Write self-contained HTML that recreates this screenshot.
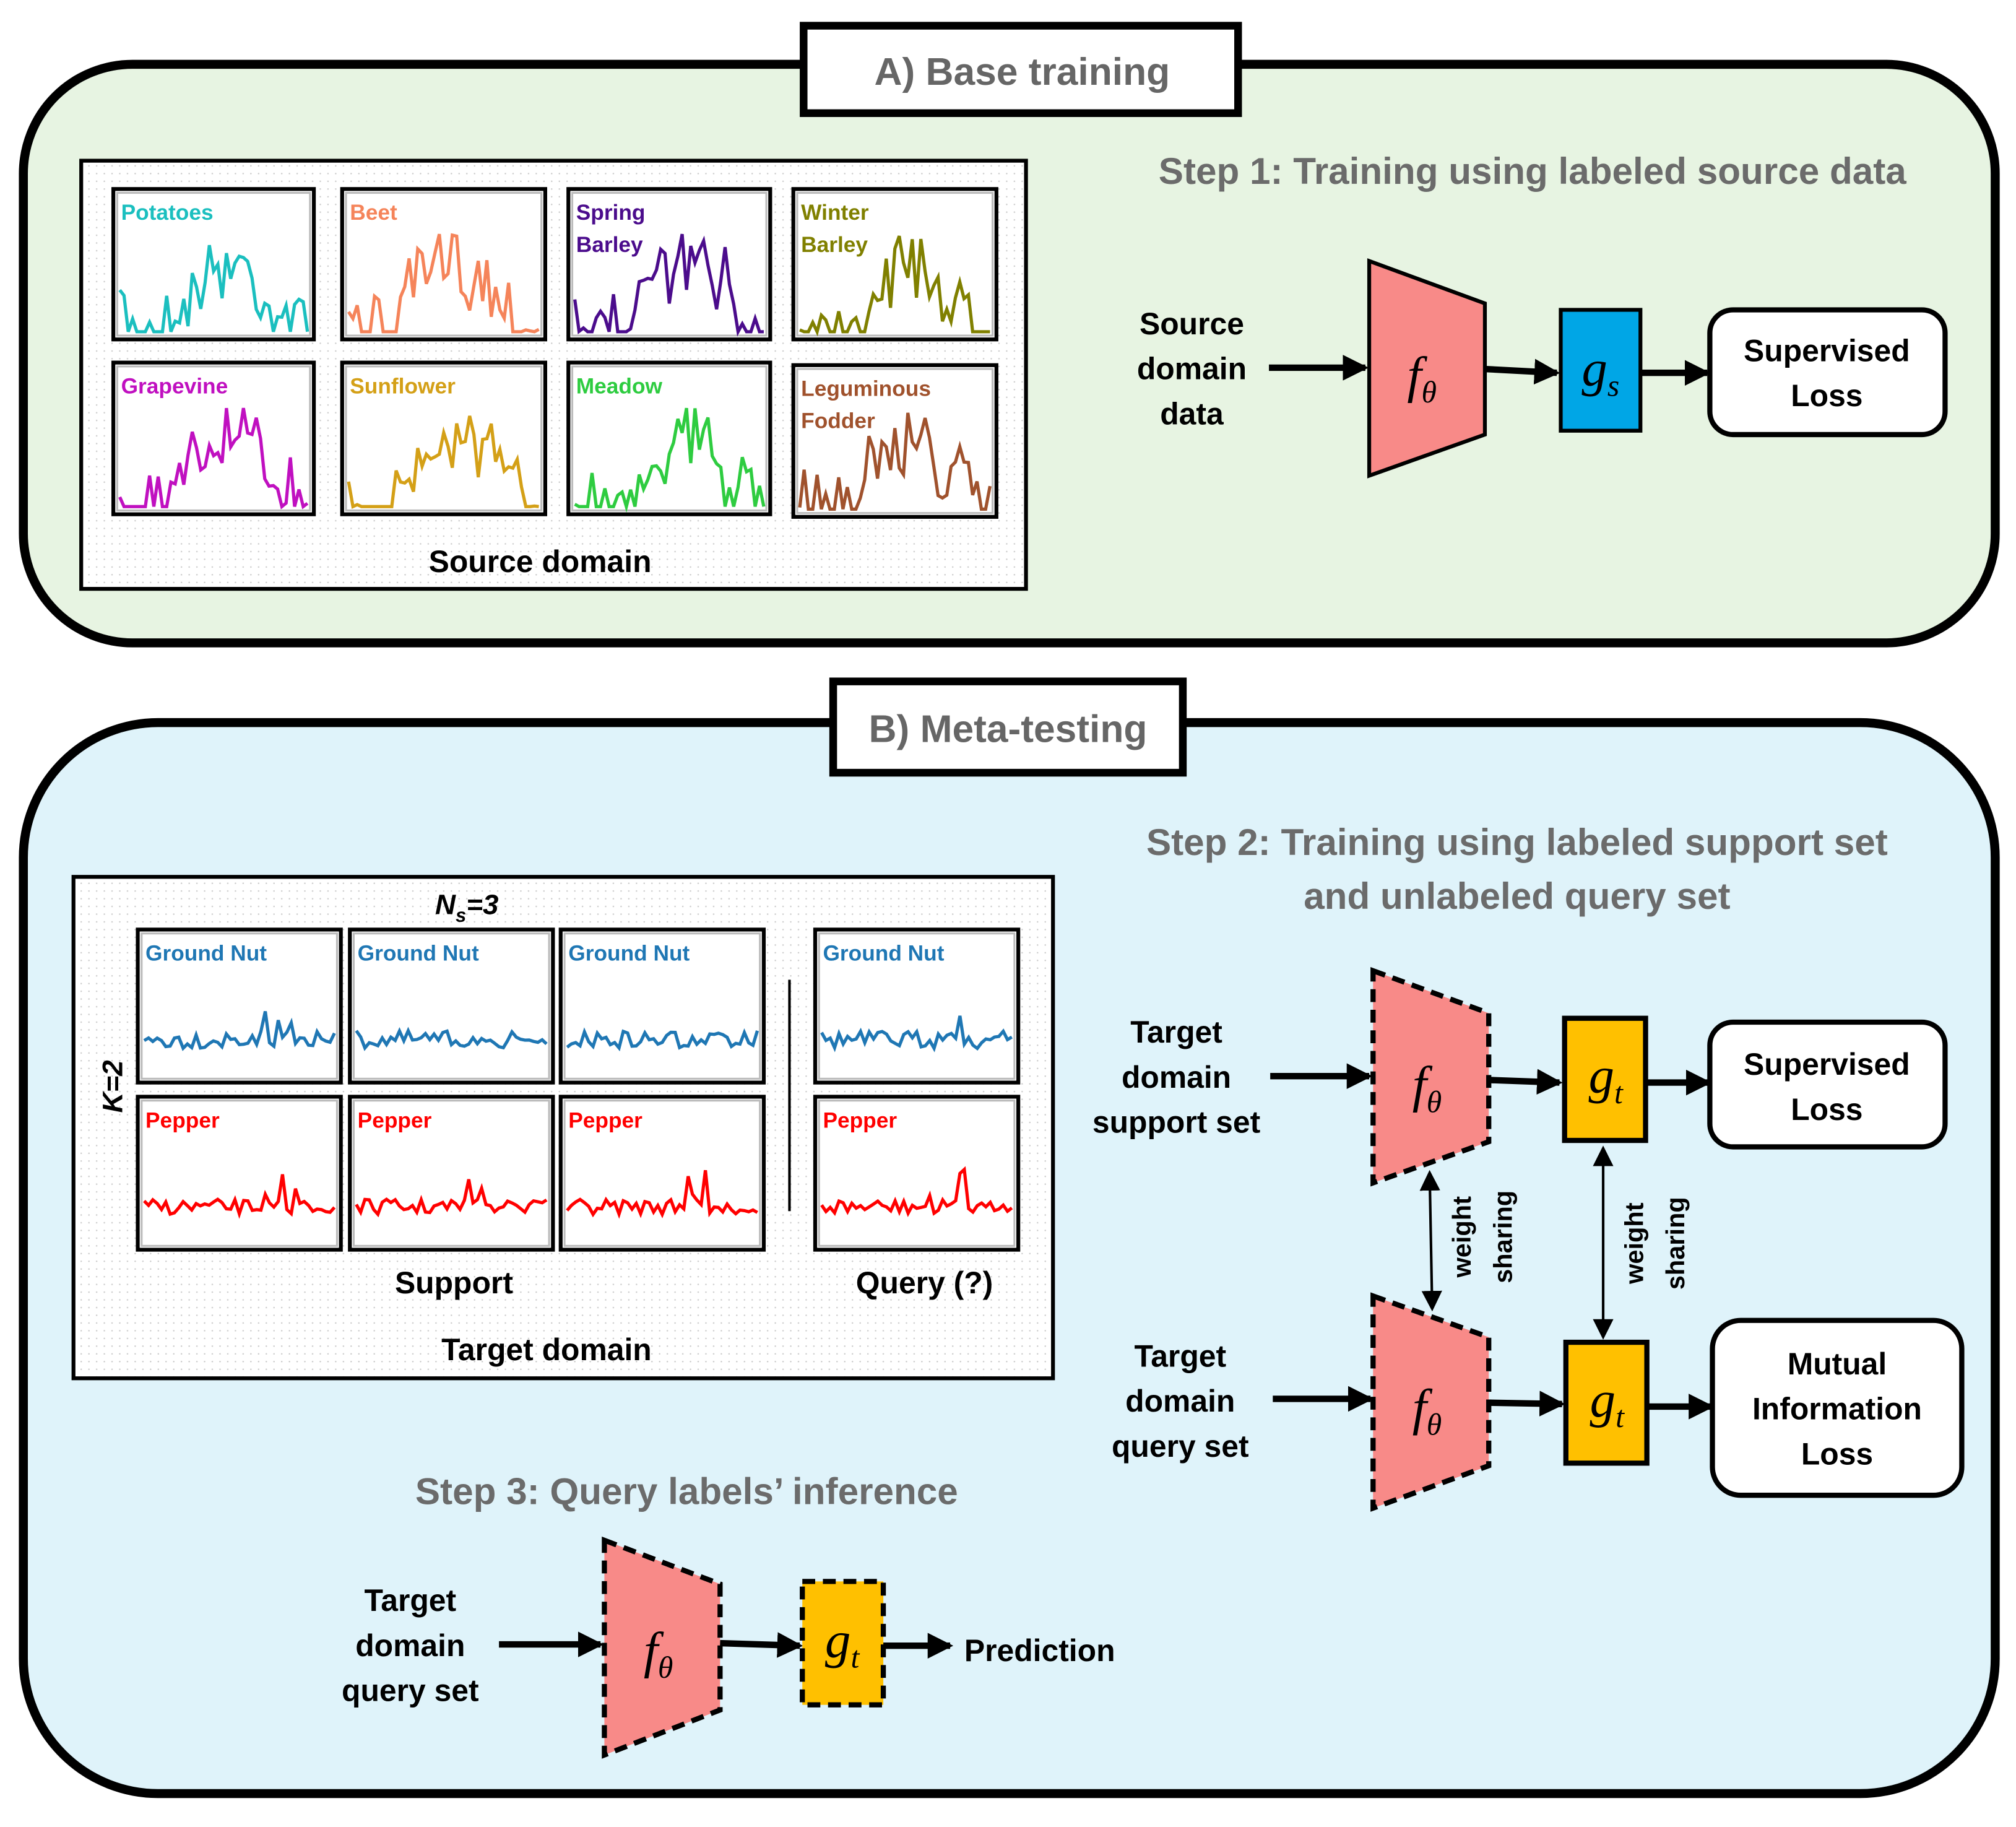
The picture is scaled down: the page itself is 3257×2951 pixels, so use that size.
<!DOCTYPE html>
<html><head><meta charset="utf-8">
<style>
html,body{margin:0;padding:0;background:#fff;}
svg{display:block;}
text{font-family:"Liberation Sans","DejaVu Sans",sans-serif;font-weight:bold;}
.lbl{font-size:24px;fill:#000;text-anchor:middle;}
.step{font-size:29px;fill:#6b6b6b;text-anchor:middle;}
.title{font-size:30px;fill:#666;text-anchor:middle;}
.ct{font-size:17px;}
.f{font-family:"Liberation Serif","DejaVu Serif",serif;font-style:italic;font-weight:normal;font-size:40px;text-anchor:middle;}
</style></head>
<body>
<svg id="s" width="3257" height="2951" viewBox="0 0 1568 1421" xmlns="http://www.w3.org/2000/svg">
<defs>
<pattern id="dots" width="6" height="6" patternUnits="userSpaceOnUse"><rect width="6" height="6" fill="#fff"/><circle cx="3" cy="3" r="0.6" fill="#ccc"/></pattern>
<marker id="ah" markerWidth="4" markerHeight="4" refX="3.5" refY="2" orient="auto" markerUnits="strokeWidth"><path d="M0,0 L4,2 L0,4 z" fill="#000"/></marker>
<marker id="ah2" markerWidth="8" markerHeight="8" refX="7" refY="4" orient="auto-start-reverse" markerUnits="strokeWidth"><path d="M0,0 L8,4 L0,8 z" fill="#000"/></marker>
</defs>

<!-- Panel A -->
<rect x="18" y="50" width="1534" height="450" rx="85" fill="#e7f4e2" stroke="#000" stroke-width="7"/>
<rect x="625" y="20" width="338" height="68" fill="#fff" stroke="#000" stroke-width="6"/>
<text class="title" x="795" y="66">A) Base training</text>
<rect x="63" y="125" width="735" height="333" fill="url(#dots)" stroke="#000" stroke-width="3"/>
<text class="lbl" x="420" y="445">Source domain</text>
<text class="step" x="1192" y="143">Step 1: Training using labeled source data</text>
<text class="lbl" x="927" y="260">Source</text>
<text class="lbl" x="927" y="295">domain</text>
<text class="lbl" x="927" y="330">data</text>
<line x1="987" y1="286" x2="1062" y2="286" stroke="#000" stroke-width="5" marker-end="url(#ah)"/>
<polygon points="1065,203 1155,236 1155,338 1065,370" fill="#f88a88" stroke="#000" stroke-width="3"/>
<text class="f" x="1106" y="305">f<tspan font-size="24" dy="8">θ</tspan></text>
<line x1="1155" y1="287" x2="1211" y2="290" stroke="#000" stroke-width="5" marker-end="url(#ah)"/>
<rect x="1214" y="241" width="62" height="94" fill="#00a6e6" stroke="#000" stroke-width="3"/>
<text class="f" x="1245" y="300">g<tspan font-size="24" dy="8">s</tspan></text>
<line x1="1276" y1="290" x2="1328" y2="290" stroke="#000" stroke-width="5" marker-end="url(#ah)"/>
<rect x="1330" y="241" width="183" height="97" rx="18" fill="#fff" stroke="#000" stroke-width="4"/>
<text class="lbl" x="1421" y="281">Supervised</text>
<text class="lbl" x="1421" y="316">Loss</text>

<!-- Panel B -->
<rect x="18" y="562" width="1534" height="833" rx="105" fill="#dff3fa" stroke="#000" stroke-width="7"/>
<rect x="648" y="530" width="272" height="71" fill="#fff" stroke="#000" stroke-width="6"/>
<text class="title" x="784" y="577">B) Meta-testing</text>
<rect x="57" y="682" width="762" height="390" fill="url(#dots)" stroke="#000" stroke-width="3"/>
<text x="363" y="711" style="font-size:22px;font-style:italic;text-anchor:middle">N<tspan font-size="15" dy="6">s</tspan><tspan dy="-6">=3</tspan></text>
<text x="95" y="845" transform="rotate(-90 95 845)" style="font-size:22px;font-style:italic;text-anchor:middle">K=2</text>
<line x1="614" y1="762" x2="614" y2="942" stroke="#000" stroke-width="2"/>
<text class="lbl" x="353" y="1006">Support</text>
<text class="lbl" x="719" y="1006">Query (?)</text>
<text class="lbl" x="425" y="1058">Target domain</text>

<text class="step" x="1180" y="665">Step 2: Training using labeled  support set</text>
<text class="step" x="1180" y="707">and unlabeled query set</text>

<text class="lbl" x="915" y="811">Target</text>
<text class="lbl" x="915" y="846">domain</text>
<text class="lbl" x="915" y="881">support set</text>
<line x1="988" y1="837" x2="1065" y2="837" stroke="#000" stroke-width="5" marker-end="url(#ah)"/>
<polygon points="1068,755 1158,788 1158,888 1068,920" fill="#f88a88" stroke="#000" stroke-width="4" stroke-dasharray="10,6"/>
<text class="f" x="1110" y="857">f<tspan font-size="24" dy="8">θ</tspan></text>
<line x1="1158" y1="840" x2="1213" y2="842" stroke="#000" stroke-width="5" marker-end="url(#ah)"/>
<rect x="1217" y="792" width="63" height="95" fill="#ffc000" stroke="#000" stroke-width="4"/>
<text class="f" x="1249" y="850">g<tspan font-size="24" dy="8">t</tspan></text>
<line x1="1280" y1="842" x2="1329" y2="842" stroke="#000" stroke-width="5" marker-end="url(#ah)"/>
<rect x="1330" y="795" width="183" height="97" rx="18" fill="#fff" stroke="#000" stroke-width="4"/>
<text class="lbl" x="1421" y="836">Supervised</text>
<text class="lbl" x="1421" y="871">Loss</text>

<line x1="1112" y1="912" x2="1114" y2="1018" stroke="#000" stroke-width="2" marker-start="url(#ah2)" marker-end="url(#ah2)"/>
<text x="1144" y="962" transform="rotate(-90 1144 962)" style="font-size:20px;text-anchor:middle">weight</text>
<text x="1176" y="962" transform="rotate(-90 1176 962)" style="font-size:20px;text-anchor:middle">sharing</text>
<line x1="1247" y1="893" x2="1247" y2="1040" stroke="#000" stroke-width="2" marker-start="url(#ah2)" marker-end="url(#ah2)"/>
<text x="1278" y="967" transform="rotate(-90 1278 967)" style="font-size:20px;text-anchor:middle">weight</text>
<text x="1310" y="967" transform="rotate(-90 1310 967)" style="font-size:20px;text-anchor:middle">sharing</text>

<text class="lbl" x="918" y="1063">Target</text>
<text class="lbl" x="918" y="1098">domain</text>
<text class="lbl" x="918" y="1133">query set</text>
<line x1="990" y1="1088" x2="1066" y2="1088" stroke="#000" stroke-width="5" marker-end="url(#ah)"/>
<polygon points="1068,1008 1158,1040 1158,1140 1068,1173" fill="#f88a88" stroke="#000" stroke-width="4" stroke-dasharray="10,6"/>
<text class="f" x="1110" y="1108">f<tspan font-size="24" dy="8">θ</tspan></text>
<line x1="1158" y1="1091" x2="1215" y2="1092" stroke="#000" stroke-width="5" marker-end="url(#ah)"/>
<rect x="1218" y="1044" width="63" height="94" fill="#ffc000" stroke="#000" stroke-width="4"/>
<text class="f" x="1250" y="1102">g<tspan font-size="24" dy="8">t</tspan></text>
<line x1="1281" y1="1094" x2="1331" y2="1094" stroke="#000" stroke-width="5" marker-end="url(#ah)"/>
<rect x="1332" y="1027" width="194" height="136" rx="22" fill="#fff" stroke="#000" stroke-width="4"/>
<text class="lbl" x="1429" y="1069">Mutual</text>
<text class="lbl" x="1429" y="1104">Information</text>
<text class="lbl" x="1429" y="1139">Loss</text>

<text class="step" x="534" y="1170">Step 3: Query labels’ inference</text>
<text class="lbl" x="319" y="1253">Target</text>
<text class="lbl" x="319" y="1288">domain</text>
<text class="lbl" x="319" y="1323">query set</text>
<line x1="388" y1="1279" x2="467" y2="1279" stroke="#000" stroke-width="5" marker-end="url(#ah)"/>
<polygon points="470,1198 560,1232 560,1330 470,1365" fill="#f88a88" stroke="#000" stroke-width="4" stroke-dasharray="10,6"/>
<text class="f" x="512" y="1297">f<tspan font-size="24" dy="8">θ</tspan></text>
<line x1="560" y1="1278" x2="622" y2="1280" stroke="#000" stroke-width="5" marker-end="url(#ah)"/>
<rect x="624" y="1230" width="63" height="96" fill="#ffc000" stroke="#000" stroke-width="4" stroke-dasharray="10,6"/>
<text class="f" x="655" y="1289">g<tspan font-size="24" dy="8">t</tspan></text>
<line x1="687" y1="1280" x2="739" y2="1280" stroke="#000" stroke-width="5" marker-end="url(#ah)"/>
<text x="750" y="1292" style="font-size:24px">Prediction</text>

<g id="charts"></g>
</svg>
<script>
(function(){
var g=document.getElementById('charts');var NS='http://www.w3.org/2000/svg';
var seed=7;function rnd(){seed=(seed*16807)%2147483647;return seed/2147483647;}
function chart(x,y,w,h,labels,col,amp,pk){
 var r=document.createElementNS(NS,'rect');
 r.setAttribute('x',x);r.setAttribute('y',y);r.setAttribute('width',w);r.setAttribute('height',h);
 r.setAttribute('fill','#fff');r.setAttribute('stroke','#000');r.setAttribute('stroke-width','3');g.appendChild(r);
 var r2=document.createElementNS(NS,'rect');
 r2.setAttribute('x',x+3);r2.setAttribute('y',y+3);r2.setAttribute('width',w-6);r2.setAttribute('height',h-6);
 r2.setAttribute('fill','none');r2.setAttribute('stroke','#bbb');r2.setAttribute('stroke-width','1.5');g.appendChild(r2);
 labels.forEach(function(t,i){var tx=document.createElementNS(NS,'text');tx.setAttribute('x',x+6);tx.setAttribute('y',y+24+i*25);
 tx.setAttribute('class','ct');tx.setAttribute('fill',col);tx.textContent=t;g.appendChild(tx);});
 var n=45,pts=[],base=y+h*0.72;
 for(var i=0;i<n;i++){var px=x+5+i*(w-10)/(n-1);var v=(rnd()-0.5)*amp;
  if(pk && i>n*0.55 && i<n*0.8 && rnd()<0.4) v-=h*0.3*rnd()-h*0.05;
  if(!pk){v+=Math.sin(i/6+rnd())*amp*0.5;}
  var py=Math.max(y+h*0.3,Math.min(y+h-6,base+v));pts.push(px.toFixed(1)+','+py.toFixed(1));}
 var p=document.createElementNS(NS,'polyline');p.setAttribute('points',pts.join(' '));p.setAttribute('fill','none');
 p.setAttribute('stroke',col);p.setAttribute('stroke-width','2.5');g.appendChild(p);
}
var A=[[88,147,156,117,['Potatoes'],'#1bbfbf'],[266,147,158,117,['Beet'],'#f5845a'],[442,147,157,117,['Spring','Barley'],'#4b0c8c'],[617,147,158,117,['Winter','Barley'],'#808000'],
[88,282,156,118,['Grapevine'],'#c010c0'],[266,282,158,118,['Sunflower'],'#d4a017'],[442,282,157,118,['Meadow'],'#2ecc40'],[617,284,158,118,['Leguminous','Fodder'],'#a0522d']];
A.forEach(function(a){chart(a[0],a[1],a[2],a[3],a[4],a[5],55,false);});
[107,272,436,634].forEach(function(x){chart(x,723,158,119,['Ground Nut'],'#1f77b4',14,true);chart(x,853,158,119,['Pepper'],'#ff0000',12,true);});
})();
</script>
</body></html>
